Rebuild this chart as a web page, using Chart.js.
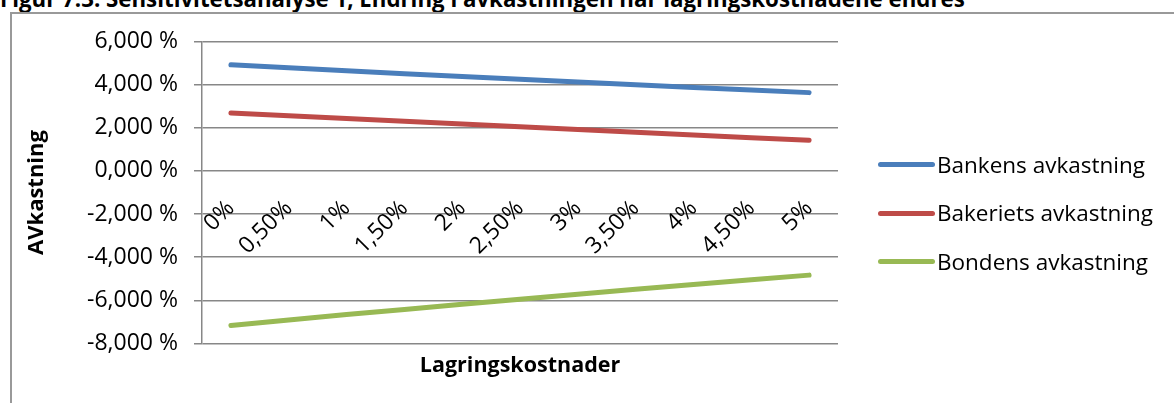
<!DOCTYPE html>
<html>
<head>
<meta charset="utf-8">
<script src="https://cdn.jsdelivr.net/npm/chart.js@4.4.1/dist/chart.umd.min.js"></script>
<style>
  html, body { margin: 0; padding: 0; background: #fff; }
  body { width: 1174px; height: 403px; overflow: hidden; position: relative; font-family: 'Open Sans', sans-serif; color: #000; }
  #tittel { position: absolute; left: 0; top: -11px; font-weight: bold; font-size: 20px; line-height: 20px; white-space: nowrap; }
  #ramme { position: absolute; left: 10px; top: 12px; width: 1300px; height: 500px; border-left: 2px solid #999; border-top: 2px solid #999; }
  #graf { position: absolute; left: 0; top: 0; }
  .post { position: absolute; left: 878px; height: 30px; line-height: 30px; display: flex; align-items: center; white-space: nowrap; font-size: 22.5px; }
  .strek { width: 57px; height: 5px; border-radius: 3px; margin-right: 2px; }
</style>
</head>
<body>
<div id="tittel">Figur 7.3: Sensitivitetsanalyse 1, Endring i avkastningen når lagringskostnadene endres</div>
<div id="ramme"></div>
<canvas id="graf" width="1174" height="403"></canvas>
<div id="forklaring"></div>
<script>
// Lagringskostnader (kategoriakse)
const kategorier = ['0%', '0,50%', '1%', '1,50%', '2%', '2,50%', '3%', '3,50%', '4%', '4,50%', '5%'];

// Avkastning i prosent
const bankens   = [4.92, 4.78, 4.64, 4.51, 4.38, 4.25, 4.12, 3.99, 3.87, 3.75, 3.63];
const bakeriets = [2.69, 2.56, 2.43, 2.30, 2.18, 2.05, 1.92, 1.79, 1.67, 1.54, 1.42];
const bondens   = [-7.17, -6.91, -6.66, -6.42, -6.18, -5.95, -5.72, -5.49, -5.26, -5.04, -4.83];

const serienavn = ['Bankens avkastning', 'Bakeriets avkastning', 'Bondens avkastning'];
const farger = ['#4a7ebb', '#be4b48', '#98b954'];
const serier = [bankens, bakeriets, bondens];

// Legg tittelen ut i full bredde
const tittel = document.getElementById('tittel');
const bredde = tittel.getBoundingClientRect().width;
tittel.style.fontSize = (20 * 965 / bredde) + 'px';

// Forklaring til høyre
const forklaring = document.getElementById('forklaring');
const radY = [164.5, 213, 261.5];
serienavn.forEach((navn, i) => {
    const post = document.createElement('div');
    post.className = 'post';
    post.style.top = (radY[i] - 15) + 'px';
    post.innerHTML = '<span class="strek" style="background:' + farger[i] + '"></span>' + navn;
    forklaring.appendChild(post);
});

Chart.defaults.font.family = "'Open Sans', sans-serif";
Chart.defaults.color = '#000';

const ctx = document.getElementById('graf').getContext('2d');
const gridFarge = '#878787';

new Chart(ctx, {
    type: 'line',
    data: {
        labels: kategorier,
        datasets: serier.map((data, i) => ({
            label: serienavn[i],
            data: data,
            borderColor: farger[i],
            backgroundColor: farger[i]
        }))
    },
    options: {
        responsive: false,
        animation: false,
        devicePixelRatio: 1,
        layout: { padding: { left: 0, top: 41.5, right: 336, bottom: 0 } },
        plugins: {
            legend: { display: false },
            tooltip: { enabled: false }
        },
        elements: {
            point: { radius: 0 },
            line: { tension: 0, borderWidth: 5, borderCapStyle: 'round', borderJoinStyle: 'round' }
        },
        scales: {
            x: {
                type: 'category',
                position: { y: 0 },
                offset: true,
                grid: { display: false, drawTicks: false, tickLength: 0 },
                border: { display: false },
                ticks: { minRotation: 45, maxRotation: 45, autoSkip: false, padding: 24, font: { size: 23 } }
            },
            xTittel: {
                type: 'category',
                position: 'bottom',
                labels: kategorier,
                offset: true,
                grid: { display: false, drawTicks: false },
                border: { display: false },
                ticks: { display: false },
                title: {
                    display: true,
                    text: 'Lagringskostnader',
                    font: { size: 21.5, weight: 'bold' },
                    padding: { top: 0, bottom: 24 }
                },
                afterFit: (skala) => { skala.height = 59.5; }
            },
            y: {
                min: -8,
                max: 6,
                ticks: {
                    stepSize: 2,
                    padding: 16,
                    font: { size: 23 },
                    callback: (v) => v.toFixed(3).replace('.', ',') + ' %'
                },
                grid: { color: gridFarge, lineWidth: 1.5, tickLength: 8 },
                border: { color: gridFarge, width: 1.5 },
                title: {
                    display: true,
                    text: 'AVkastning',
                    font: { size: 22, weight: 'bold' },
                    padding: { top: 24, bottom: 0 }
                },
                afterFit: (skala) => { skala.width = 202; }
            }
        }
    }
});
</script>
</body>
</html>
